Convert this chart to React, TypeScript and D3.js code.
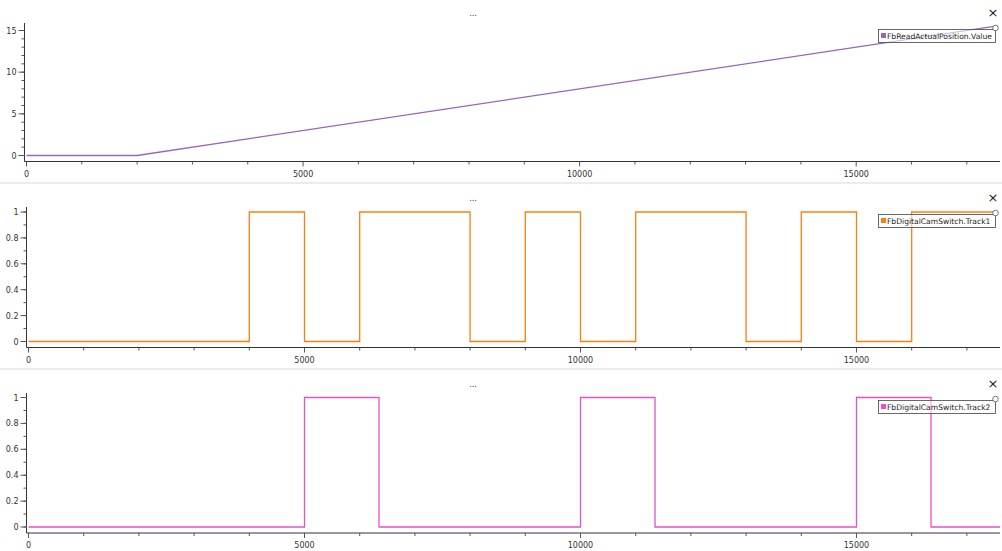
import React from "react";
import * as d3 from "d3";

const W = 1002;
const H = 551;

const positionTimes = [0, 2000, 17550];
const positionValues = [0, 0, 15.55];

const track1Times = [0, 4000, 5000, 6000, 8000, 9000, 10000, 11000, 13000, 14000, 15000, 16000, 17550];
const track1Values = [0, 1, 0, 1, 0, 1, 0, 1, 0, 1, 0, 1, 1];

const track2Times = [0, 5000, 6350, 10000, 11350, 15000, 16350, 17600];
const track2Values = [0, 1, 0, 1, 0, 1, 0, 0];

const seriesNames = ["FbReadActualPosition.Value", "FbDigitalCamSwitch.Track1", "FbDigitalCamSwitch.Track2"];
const seriesColors = ["#9467bd", "#ff7f0e", "#e751c6"];

const xMajorTicks = [0, 5000, 10000, 15000];
const xMinorTicks = d3.range(0, 17600, 1000);
const posMajorTicks = [0, 5, 10, 15];
const posMinorTicks = d3.range(0, 16, 1);
const binMajorTicks = [0, 0.2, 0.4, 0.6, 0.8, 1];
const binMinorTicks = d3.range(0, 1.01, 0.1);

type Panel = {
  name: string;
  color: string;
  times: number[];
  values: number[];
  step: boolean;
  yDomain: [number, number];
  yRange: [number, number];
  yMajor: number[];
  yMinor: number[];
  axisY: number;
  axisTop: number;
  axisX: number;
  x0: number;
  top: number;
  fmt: (v: number) => string;
};

const panels: Panel[] = [
  {
    name: seriesNames[0], color: seriesColors[0], times: positionTimes, values: positionValues, step: false,
    yDomain: [0, 15], yRange: [155.5, 30.5], yMajor: posMajorTicks, yMinor: posMinorTicks,
    axisY: 161.5, axisTop: 23, axisX: 24.5, x0: 26.5, top: 0, fmt: (v) => String(v),
  },
  {
    name: seriesNames[1], color: seriesColors[1], times: track1Times, values: track1Values, step: true,
    yDomain: [0, 1], yRange: [341.5, 212], yMajor: binMajorTicks, yMinor: binMinorTicks,
    axisY: 347.5, axisTop: 207, axisX: 26.5, x0: 28.5, top: 185, fmt: (v) => String(+v.toFixed(1)),
  },
  {
    name: seriesNames[2], color: seriesColors[2], times: track2Times, values: track2Values, step: true,
    yDomain: [0, 1], yRange: [527, 397.5], yMajor: binMajorTicks, yMinor: binMinorTicks,
    axisY: 533, axisTop: 393, axisX: 26.5, x0: 28.5, top: 371, fmt: (v) => String(+v.toFixed(1)),
  },
];

const font = "DejaVu Sans, sans-serif";
const axisColor = "#333";

function PanelView({ p }: { p: Panel }) {
  const x = d3.scaleLinear().domain([0, 17600]).range([p.x0, 1000]);
  const y = d3.scaleLinear().domain(p.yDomain).range(p.yRange);
  const data = p.times.map((t, i) => [t, p.values[i]] as [number, number]);
  const line = d3
    .line<[number, number]>()
    .x((d) => x(d[0]))
    .y((d) => y(d[1]))
    .curve(p.step ? d3.curveStepAfter : d3.curveLinear);
  const legendTop = p.top + 29;
  return (
    <g>
      <text x={473} y={p.top + 16} fontSize={8} fill="#333" textAnchor="middle" fontFamily={font}>...</text>
      <text x={993} y={p.top + 17} fontSize={13} fill="#222" textAnchor="middle" fontFamily={font}>×</text>
      {/* x axis */}
      <line x1={p.x0 - 2} x2={1000} y1={p.axisY} y2={p.axisY} stroke={axisColor} strokeWidth={1} />
      {xMinorTicks.map((t) => (
        <line key={"xm" + t} x1={x(t)} x2={x(t)} y1={p.axisY} y2={p.axisY + (t % 5000 === 0 ? 5 : 3)} stroke="#555" strokeWidth={1} />
      ))}
      {xMajorTicks.map((t) => (
        <text key={"xl" + t} x={x(t)} y={p.axisY + 15} fontSize={8} fill="#333" textAnchor="middle" fontFamily={font}>{t}</text>
      ))}
      {/* y axis */}
      <line x1={p.axisX} x2={p.axisX} y1={p.axisTop} y2={p.axisY} stroke={axisColor} strokeWidth={1} />
      {p.yMinor.map((v, i) => (
        <line key={"ym" + i} x1={p.axisX - 3} x2={p.axisX} y1={y(v)} y2={y(v)} stroke="#555" strokeWidth={1} />
      ))}
      {p.yMajor.map((v, i) => (
        <g key={"yl" + i}>
          <line x1={p.axisX - 6} x2={p.axisX} y1={y(v)} y2={y(v)} stroke="#555" strokeWidth={1} />
          <text x={p.axisX - 8} y={y(v) + 3} fontSize={8} fill="#333" textAnchor="end" fontFamily={font}>{p.fmt(v)}</text>
        </g>
      ))}
      <path d={line(data) || ""} fill="none" stroke={p.color} strokeWidth={1.3} />
      {/* legend */}
      <rect x={878.5} y={legendTop + 0.5} width={117} height={13} fill="rgba(255,255,255,0.6)" stroke="#444" strokeWidth={0.8} />
      <rect x={881} y={legendTop + 4} width={5} height={5} fill={p.color} />
      <text x={887} y={legendTop + 10} fontSize={7.6} fill="#222" fontFamily={font}>{p.name}</text>
      <circle cx={995.5} cy={legendTop - 1} r={2.8} fill="#fff" stroke="#555" strokeWidth={0.8} />
    </g>
  );
}

export default function App() {
  return (
    <svg width={W} height={H} style={{ position: "absolute", left: 0, top: 0, background: "#fff" }}>
      <rect x={0} y={0} width={W} height={H} fill="#fff" />
      <line x1={0} x2={W} y1={183} y2={183} stroke="#e6e6e6" strokeWidth={1.5} />
      <line x1={0} x2={W} y1={369} y2={369} stroke="#e6e6e6" strokeWidth={1.5} />
      {panels.map((p, i) => (
        <PanelView key={i} p={p} />
      ))}
    </svg>
  );
}
